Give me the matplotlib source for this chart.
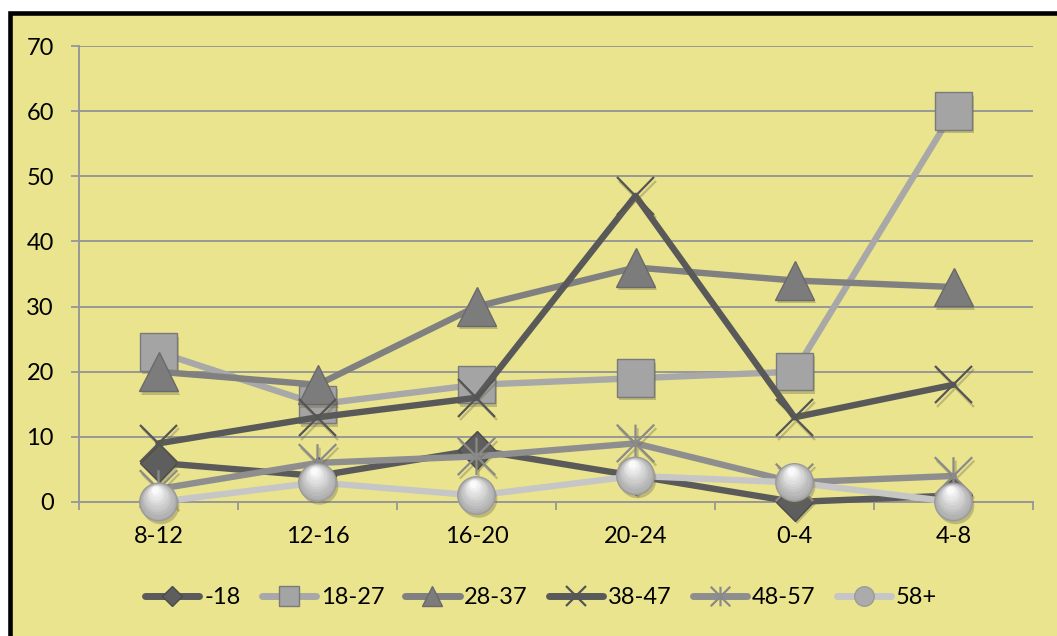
import matplotlib.pyplot as plt
import matplotlib.patheffects as pe
from matplotlib.patches import Rectangle
from matplotlib.path import Path
from matplotlib.lines import Line2D
from matplotlib.transforms import ScaledTranslation

# data: counts per time period for each age group
periods = ['8-12', '12-16', '16-20', '20-24', '0-4', '4-8']
age_groups = ['-18', '18-27', '28-37', '38-47', '48-57', '58+']
under_18 = [6, 4, 8, 4, 0, 1]
age_18_27 = [23, 15, 18, 19, 20, 60]
age_28_37 = [20, 18, 30, 36, 34, 33]
age_38_47 = [9, 13, 16, 47, 13, 18]
age_48_57 = [2, 6, 7, 9, 3, 4]
age_58_up = [0, 3, 1, 4, 3, 0]
y_ticks = [0, 10, 20, 30, 40, 50, 60, 70]

plt.rcParams['font.family'] = ['Lato', 'DejaVu Sans']

bg = '#EAE48F'
grid_col = '#979797'
fs = 17

# asterisk marker: an x with a vertical bar through it
star = Path([(-0.5, -0.5), (0.5, 0.5), (-0.5, 0.5), (0.5, -0.5), (0, -0.5), (0, 0.5)],
            [Path.MOVETO, Path.LINETO, Path.MOVETO, Path.LINETO, Path.MOVETO, Path.LINETO])

series = [
    # values, line colour, marker, size, face, edge, edge width
    (under_18, '#5A5A5A', 'D', 19, '#5E5E5E', '#4A4A4A', 1.0),
    (age_18_27, '#A8A8A8', 's', 27, '#A4A4A4', '#7A7A7A', 1.0),
    (age_28_37, '#808080', '^', 28, '#7C7C7C', '#6A6A6A', 1.0),
    (age_38_47, '#595959', 'x', 27, 'none', '#555555', 1.6),
    (age_48_57, '#8E8E8E', star, 27, 'none', '#8A8A8A', 1.6),
    (age_58_up, '#C6C6C6', 'o', 27, '#ABABAB', '#9A9A9A', 1.0),
]

fig = plt.figure(figsize=(10.57, 6.36), dpi=100, facecolor='white')
# yellow panel with black frame
frame = Rectangle((9.5 / 1057, -0.2), 1.3, (636 - 13) / 636 + 0.2, transform=fig.transFigure,
                  facecolor=bg, edgecolor='black', linewidth=3.3, zorder=-1)
fig.patches.append(frame)

ax = fig.add_axes([79 / 1057, 1 - 502 / 636, (1033 - 79) / 1057, (502 - 46) / 636])
ax.set_facecolor('none')

x = list(range(len(periods)))
fill_shadow = [pe.SimplePatchShadow(offset=(1.5, -2.5), shadow_rgbFace='#6b6640', alpha=0.35),
               pe.Normal()]
line_shadow = [pe.SimpleLineShadow(offset=(1.5, -2.5), shadow_color='#6b6640', alpha=0.35),
               pe.Normal()]
handles = []
for i, (vals, lc, mk, ms, fc, ec, mew) in enumerate(series):
    z = 3 + i * 2
    ax.plot(x, vals, color=lc, lw=4.6, solid_capstyle='round', zorder=z, clip_on=False)
    fx = line_shadow if fc == 'none' else fill_shadow
    ax.plot(x, vals, ls='none', marker=mk, ms=ms, mfc=fc, mec=ec, mew=mew,
            zorder=z + 1, path_effects=fx, clip_on=False)
    if mk == 'o':
        # stacked lighter discs shifted upward give the balls a shine
        shades = ['#B3B3B3', '#BBBBBB', '#C4C4C4', '#CDCDCD', '#D6D6D6',
                  '#DFDFDF', '#E8E8E8', '#F1F1F1', '#FAFAFA']
        for k, col in enumerate(shades):
            frac = 0.92 - k * 0.09
            off = ScaledTranslation(-0.25 * (k + 1) / 72, 0.95 * (k + 1) / 72, fig.dpi_scale_trans)
            ax.plot(x, vals, ls='none', marker='o', ms=ms * frac, mfc=col, mec='none',
                    zorder=z + 1.1 + k * 0.01, transform=ax.transData + off, clip_on=False)
    handles.append(Line2D([], [], color=lc, lw=5, solid_capstyle='round', marker=mk,
                          ms=ms * 0.52, mfc=fc, mec=ec, mew=mew))

ax.set_xlim(-0.5, len(periods) - 0.5)
ax.set_ylim(0, 70)
ax.set_yticks(y_ticks)
ax.set_xticks(x)
ax.set_xticklabels(periods)
ax.set_xticks([v - 0.5 for v in range(len(periods) + 1)], minor=True)
ax.tick_params(axis='x', which='major', length=0, pad=17, labelsize=fs)
ax.tick_params(axis='x', which='minor', length=6, width=1.3, color=grid_col, direction='out')
ax.tick_params(axis='y', length=6, width=1.3, color=grid_col, pad=12, labelsize=fs)
ax.grid(axis='y', color=grid_col, lw=1.4, zorder=1)
ax.set_axisbelow(True)
for s in ['top', 'right']:
    ax.spines[s].set_visible(False)
for s in ['left', 'bottom']:
    ax.spines[s].set_color(grid_col)
    ax.spines[s].set_linewidth(1.4)

fig.legend(handles, age_groups, loc='center', bbox_to_anchor=(541 / 1057, 1 - 598 / 636),
           ncol=6, frameon=False, fontsize=fs, handlelength=2.3, handletextpad=0.2,
           columnspacing=0.9)

fig.savefig('out.png', dpi=100, facecolor='white')
